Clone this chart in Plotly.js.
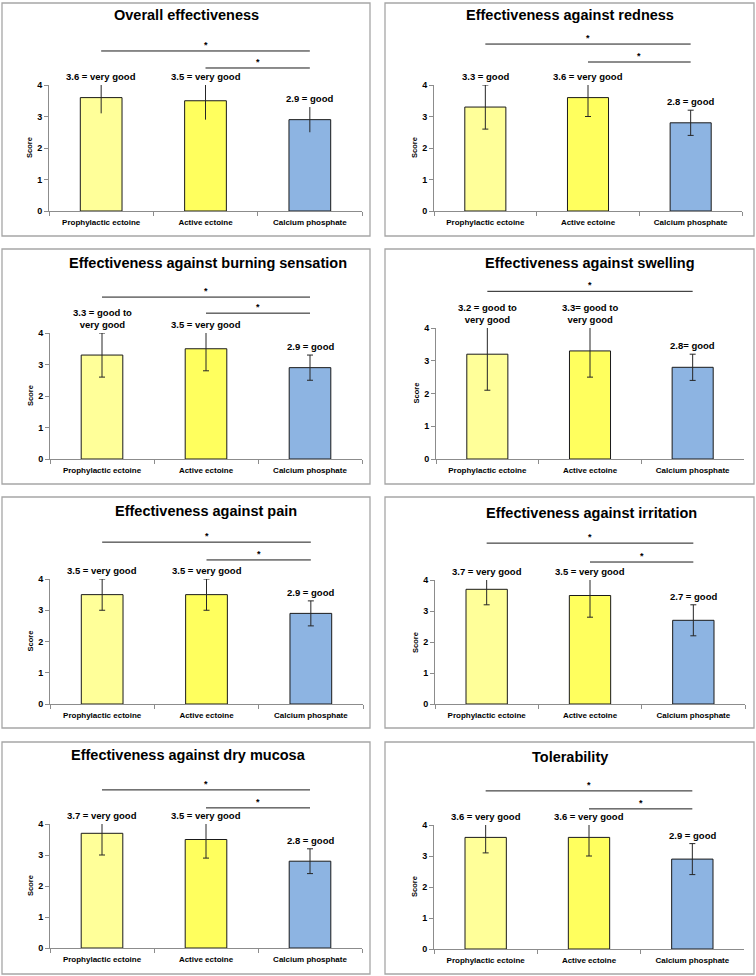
<!DOCTYPE html>
<html><head><meta charset="utf-8">
<script src="https://cdn.plot.ly/plotly-3.0.1.min.js"></script>
<style>html,body{margin:0;padding:0;background:#fff}#chart{width:756px;height:976px}</style>
</head><body><div id="chart"></div>
<script>
// ---------------- DATA ----------------
const categories = ["Prophylactic ectoine", "Active ectoine", "Calcium phosphate"];
const panelTitles = [
  "Overall effectiveness",
  "Effectiveness against redness",
  "Effectiveness against burning sensation",
  "Effectiveness against swelling",
  "Effectiveness against pain",
  "Effectiveness against irritation",
  "Effectiveness against dry mucosa",
  "Tolerability"
];
const prophylacticMean = [3.6, 3.3, 3.3, 3.2, 3.5, 3.7, 3.7, 3.6];
const activeMean       = [3.5, 3.6, 3.5, 3.3, 3.5, 3.5, 3.5, 3.6];
const calciumMean      = [2.9, 2.8, 2.9, 2.8, 2.9, 2.7, 2.8, 2.9];
const prophylacticSD   = [0.5, 0.7, 0.7, 1.1, 0.5, 0.5, 0.7, 0.5];
const activeSD         = [0.6, 0.6, 0.7, 0.8, 0.5, 0.7, 0.6, 0.6];
const calciumSD        = [0.4, 0.4, 0.4, 0.4, 0.4, 0.5, 0.4, 0.5];
const prophylacticLabel = ["3.6 = very good", "3.3 = good", "3.3 = good to<br>very good", "3.2 = good to<br>very good",
                           "3.5 = very good", "3.7 = very good", "3.7 = very good", "3.6 = very good"];
const activeLabel       = ["3.5 = very good", "3.6 = very good", "3.5 = very good", "3.3= good to<br>very good",
                           "3.5 = very good", "3.5 = very good", "3.5 = very good", "3.6 = very good"];
const calciumLabel      = ["2.9 = good", "2.8 = good", "2.9 = good", "2.8= good",
                           "2.9 = good", "2.7 = good", "2.8 = good", "2.9 = good"];
// significant comparisons (category index pairs) per panel
const sigPairs = [
  [[0, 2], [1, 2]], [[0, 2], [1, 2]], [[0, 2], [1, 2]], [[0, 2]],
  [[0, 2], [1, 2]], [[0, 2], [1, 2]], [[0, 2], [1, 2]], [[0, 2], [1, 2]]
];
const sigLabel = "*";
const yAxisTitle = "Score";
const yTicks = [0, 1, 2, 3, 4];

// ---------------- LAYOUT / STYLE ----------------
const W = 756, H = 976;
const FONT = "Liberation Sans, Arial, sans-serif";
const barColors = ["#FFFF99", "#FFFF5E", "#8DB4E2"];
// pixel geometry of each panel: axis x extent, y pixel of 0 and 4, box, title centre
const geom = [
  {ax: [49, 362],  y0: 211, y4: 85,  box: [2, 370, 3, 236],     tx: 186, ty: 15},
  {ax: [434, 742], y0: 211, y4: 85,  box: [385, 754, 3, 236],   tx: 570, ty: 15},
  {ax: [50, 362],  y0: 459, y4: 333, box: [2, 370, 249, 484],   tx: 208, ty: 263},
  {ax: [436, 744], y0: 459, y4: 328, box: [385, 754, 249, 484], tx: 590, ty: 263},
  {ax: [50, 363],  y0: 704, y4: 579, box: [2, 370, 497, 728],   tx: 206, ty: 511},
  {ax: [435, 745], y0: 704, y4: 580, box: [385, 754, 497, 728], tx: 591, ty: 513},
  {ax: [50, 362],  y0: 948, y4: 824, box: [2, 370, 742, 974],   tx: 188, ty: 755},
  {ax: [434, 744], y0: 949, y4: 825, box: [385, 754, 742, 974], tx: 570, ty: 757}
];
// height (in score units) of the significance bars, per panel: [long, short]
const sigHeights = [
  [5.08, 4.54], [5.30, 4.73], [5.14, 4.63], [5.12],
  [5.18, 4.61], [5.19, 4.58], [5.10, 4.52], [5.10, 4.52]
];
const capWidth = [0, 3, 3, 3, 3, 3, 3, 3];

const traces = [];
const layout = {
  width: W, height: H, margin: {l: 0, r: 0, t: 0, b: 0},
  showlegend: false, paper_bgcolor: "#ffffff", plot_bgcolor: "rgba(0,0,0,0)",
  bargap: 0.6, annotations: [], shapes: [],
  font: {family: FONT, color: "#000"}
};

function px2paperY(py) { return 1 - py / H; }

for (let i = 0; i < 8; i++) {
  const g = geom[i];
  const n = i + 1;
  const sfx = n > 1 ? String(n) : "";
  const xa = "x" + sfx, ya = "y" + sfx;
  const means = [prophylacticMean[i], activeMean[i], calciumMean[i]];
  const sds = [prophylacticSD[i], activeSD[i], calciumSD[i]];
  const labels = [prophylacticLabel[i], activeLabel[i], calciumLabel[i]];
  const ppu = (g.y0 - g.y4) / 4;

  traces.push({
    type: "bar", x: categories, y: means, xaxis: xa, yaxis: ya,
    marker: {color: barColors, line: {color: "#1a1a1a", width: 1}},
    error_y: {type: "data", array: sds, visible: true, color: "#262626", thickness: 1, width: capWidth[i]},
    hoverinfo: "none"
  });

  layout["xaxis" + sfx] = {
    domain: [g.ax[0] / W, g.ax[1] / W], anchor: ya, type: "category",
    showline: true, linecolor: "#8c8c8c", linewidth: 1,
    ticks: "outside", tickson: "boundaries", ticklen: 4, tickcolor: "#8c8c8c",
    ticklabelstandoff: 3,
    tickfont: {family: FONT, size: 8, color: "#000", weight: "bold"},
    showgrid: false, zeroline: false, fixedrange: true
  };
  layout["yaxis" + sfx] = {
    domain: [px2paperY(g.y0), px2paperY(g.y4)], anchor: xa, range: [0, 4],
    tickvals: yTicks, ticktext: yTicks.map(String),
    showline: true, linecolor: "#8c8c8c", linewidth: 1,
    ticks: "outside", ticklen: 4, tickcolor: "#8c8c8c",
    tickfont: {family: FONT, size: 9, color: "#000", weight: "bold"},
    showgrid: false, zeroline: false, fixedrange: true
  };

  // panel frame
  layout.shapes.push({
    type: "rect", xref: "paper", yref: "paper",
    x0: g.box[0] / W, x1: g.box[1] / W, y0: px2paperY(g.box[3]), y1: px2paperY(g.box[2]),
    line: {color: "#a6a6a6", width: 1.3}, fillcolor: "rgba(0,0,0,0)"
  });

  // title
  layout.annotations.push({
    text: panelTitles[i], xref: "paper", yref: "paper",
    x: g.tx / W, y: px2paperY(g.ty), xanchor: "center", yanchor: "middle",
    showarrow: false, font: {family: FONT, size: 14.5, color: "#000", weight: "bold"}
  });

  // y axis title
  layout.annotations.push({
    text: yAxisTitle, xref: xa + " domain", yref: ya, x: 0, y: 2, xshift: -20,
    xanchor: "center", yanchor: "middle", textangle: -90, showarrow: false,
    font: {family: FONT, size: 7.5, color: "#000", weight: "bold"}
  });

  // value labels above the error bars
  for (let k = 0; k < 3; k++) {
    layout.annotations.push({
      text: labels[k], xref: xa, yref: ya, x: k, y: Math.min(means[k] + sds[k], 4),
      xanchor: "center", yanchor: "bottom", yshift: 1, showarrow: false,
      font: {family: FONT, size: 9.5, color: "#000", weight: "bold"}
    });
  }

  // significance bars
  sigPairs[i].forEach((pr, j) => {
    const yPix = g.y0 - sigHeights[i][j] * ppu;
    layout.shapes.push({
      type: "line", xref: xa, yref: "paper", x0: pr[0], x1: pr[1],
      y0: px2paperY(yPix), y1: px2paperY(yPix),
      line: {color: "#1a1a1a", width: 1}
    });
    layout.annotations.push({
      text: sigLabel, xref: xa, yref: "paper", x: (pr[0] + pr[1]) / 2,
      y: px2paperY(yPix - 6), xanchor: "center", yanchor: "middle", showarrow: false,
      font: {family: FONT, size: 9, color: "#000", weight: "bold"}
    });
  });
}

Plotly.newPlot("chart", traces, layout, {displayModeBar: false, staticPlot: true});
</script>
</body></html>
